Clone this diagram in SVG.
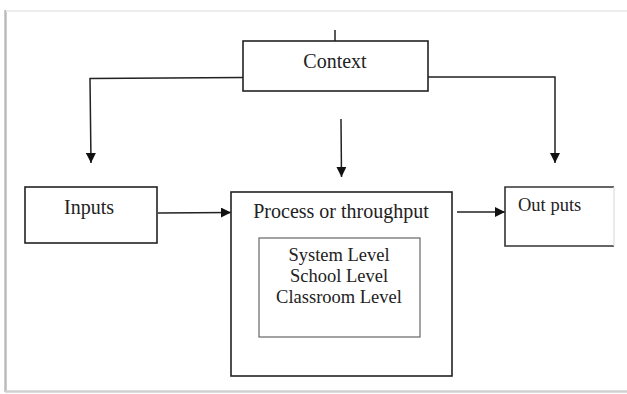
<svg xmlns="http://www.w3.org/2000/svg" width="627" height="394" viewBox="0 0 627 394">
<style>
.box{fill:#fff;stroke:#222;stroke-width:1.6}
.inner{fill:none;stroke:#666;stroke-width:1.2}
.ln{fill:none;stroke:#222;stroke-width:1.5}
.t{font-family:"Liberation Serif","Times New Roman",serif;fill:#222}
</style>
<defs>
<marker id="ah" viewBox="0 0 10 10" refX="10" refY="5" markerWidth="10" markerHeight="10" markerUnits="userSpaceOnUse" orient="auto">
<path d="M0,0 L10,5 L0,10 z" fill="#111"/>
</marker>
</defs>
<rect width="627" height="394" fill="#fff"/>
<g id="frame">
<line x1="5.5" y1="10" x2="5.5" y2="392" stroke="#bbb" stroke-width="2.5"/>
<line x1="6" y1="11" x2="627" y2="11" stroke="#ececec" stroke-width="2"/>
<line x1="5" y1="391.5" x2="627" y2="391.5" stroke="#d0d0d0" stroke-width="2.5"/>
</g>
<g id="connectors">
<line class="ln" x1="335" y1="30" x2="335" y2="41"/>
<polyline class="ln" points="243,77.5 90,78.5 91,163" marker-end="url(#ah)"/>
<polyline class="ln" points="428,77 555,77 555,163" marker-end="url(#ah)"/>
<line class="ln" x1="341" y1="119" x2="341.5" y2="177" marker-end="url(#ah)"/>
<line class="ln" x1="158" y1="213" x2="231" y2="212.5" marker-end="url(#ah)"/>
<line class="ln" x1="457" y1="212" x2="505" y2="212" marker-end="url(#ah)"/>
</g>
<g id="context">
<rect class="box" x="243" y="41" width="185" height="50"/>
<text class="t" x="335" y="68" font-size="20" text-anchor="middle">Context</text>
</g>
<g id="inputs">
<rect class="box" x="25" y="187" width="132" height="56"/>
<text class="t" x="89" y="214" font-size="20" text-anchor="middle">Inputs</text>
</g>
<g id="process">
<rect class="box" x="231" y="192" width="221" height="184"/>
<text class="t" x="341" y="218" font-size="20" text-anchor="middle">Process or throughput</text>
</g>
<g id="levels">
<rect class="inner" x="259" y="238" width="161" height="99"/>
<text class="t" x="339" y="261" font-size="18.5" text-anchor="middle">System Level</text>
<text class="t" x="339" y="282" font-size="18.5" text-anchor="middle">School Level</text>
<text class="t" x="339" y="303" font-size="18.5" text-anchor="middle">Classroom Level</text>
</g>
<g id="outputs">
<polyline points="614,187 505,187 505,246 614,246" fill="none" stroke="#333" stroke-width="1.6"/>
<line x1="614" y1="187" x2="614" y2="246" stroke="#ddd" stroke-width="1.2"/>
<text class="t" x="518" y="211" font-size="18.5">Out puts</text>
</g>
</svg>
